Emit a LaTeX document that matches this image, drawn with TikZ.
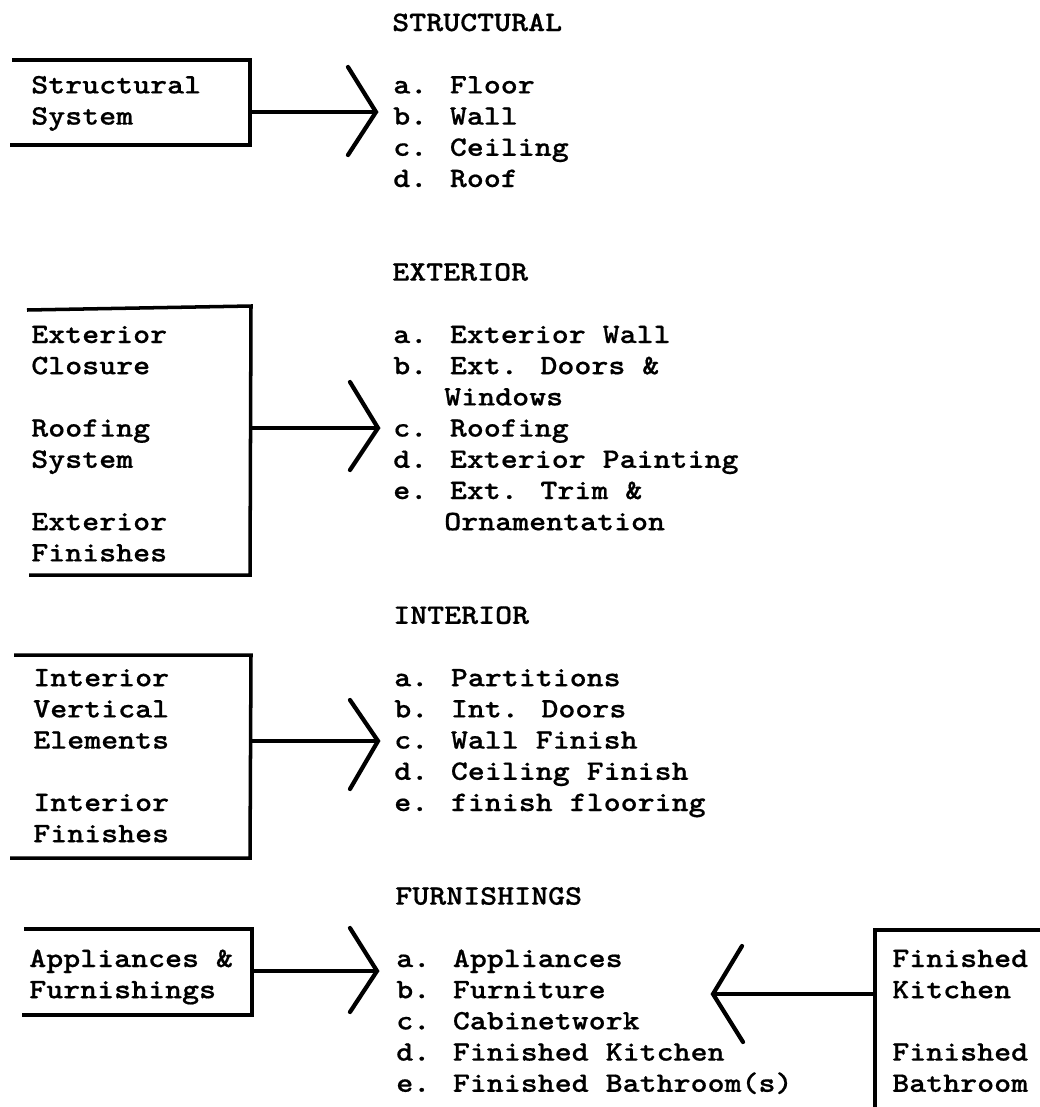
\documentclass[tikz,border=0pt]{standalone}
\usepackage{fontspec}
% typewriter face: dark Latin Modern Mono, widened a little and inked a bit heavier
\newfontfamily\typewriter{lmmonolt10-bold.otf}[FakeStretch=1.15, FakeBold=0.6]

\begin{document}
\begin{tikzpicture}[x=0.025cm, y=-0.025cm,
  txt/.style={anchor=base west, inner sep=0pt, font=\typewriter\fontsize{20}{24}\selectfont},
  box/.style={line width=2.5pt, line join=miter},
  link/.style={line width=2.4pt},
  chev/.style={line width=3pt, line cap=round, line join=miter}]

\useasboundingbox (0,0) rectangle (1040,1107);

% baseline of typed line n: 31 + 31.2 n
\def\ls{31.2}

% ---------------- STRUCTURAL ----------------
\node[txt] (hS) at (392,{31+\ls*0}) {STRUCTURAL};
\node[txt] (s1) at (393,{31+\ls*2}) {a. Floor};
\node[txt] (s2) at (393,{31+\ls*3}) {b. Wall};
\node[txt] (s3) at (393,{31+\ls*4}) {c. Ceiling};
\node[txt] (s4) at (393,{31+\ls*5}) {d. Roof};

\node[txt] (sb1) at (31,{31+\ls*2}) {Structural};
\node[txt] (sb2) at (31,{31+\ls*3}) {System};

\coordinate (SBtl) at (12,60);  \coordinate (SBtr) at (250,60);
\coordinate (SBbr) at (250,145); \coordinate (SBbl) at (10,145);
\draw[box] (SBtl) -- (SBtr) -- (SBbr) -- (SBbl);

\coordinate (SBout) at (250,112);
\coordinate (Stip) at (376,112);
\coordinate (Stop) at (348,67);
\coordinate (Sbot) at (348,155);
\draw[link] (SBout) -- (Stip);
\draw[chev] (Stop) -- (Stip) -- (Sbot);

% ---------------- EXTERIOR ----------------
\node[txt] (hE) at (392,{31+\ls*8}) {EXTERIOR};
\node[txt] (e1) at (393,{31+\ls*10}) {a. Exterior Wall};
\node[txt] (e2) at (393,{31+\ls*11}) {b. Ext. Doors \&};
\node[txt] (e2b) at (444,{31+\ls*12}) {Windows};
\node[txt] (e3) at (393,{31+\ls*13}) {c. Roofing};
\node[txt] (e4) at (393,{31+\ls*14}) {d. Exterior Painting};
\node[txt] (e5) at (393,{31+\ls*15}) {e. Ext. Trim \&};
\node[txt] (e5b) at (444,{31+\ls*16}) {Ornamentation};

\node[txt] (eb1) at (31,{31+\ls*10}) {Exterior};
\node[txt] (eb2) at (31,{31+\ls*11}) {Closure};
\node[txt] (eb3) at (31,{31+\ls*13}) {Roofing};
\node[txt] (eb4) at (31,{31+\ls*14}) {System};
\node[txt] (eb5) at (31,{31+\ls*16}) {Exterior};
\node[txt] (eb6) at (31,{31+\ls*17}) {Finishes};

\coordinate (EBtl) at (27,310);  \coordinate (EBtr) at (251,306);
\coordinate (EBbr) at (250,575); \coordinate (EBbl) at (29,575);
\draw[box] (EBtl) -- (EBtr) -- (EBbr) -- (EBbl);

\coordinate (EBout) at (250,428);
\coordinate (Etip) at (378,428);
\coordinate (Etop) at (350,382);
\coordinate (Ebot) at (350,470);
\draw[link] (EBout) -- (Etip);
\draw[chev] (Etop) -- (Etip) -- (Ebot);

% ---------------- INTERIOR ----------------
\node[txt] (hI) at (393,{31+\ls*19}) {INTERIOR};
\node[txt] (i1) at (394,{31+\ls*21}) {a. Partitions};
\node[txt] (i2) at (394,{31+\ls*22}) {b. Int. Doors};
\node[txt] (i3) at (394,{31+\ls*23}) {c. Wall Finish};
\node[txt] (i4) at (394,{31+\ls*24}) {d. Ceiling Finish};
\node[txt] (i5) at (394,{31+\ls*25}) {e. finish flooring};

\node[txt] (ib1) at (33,{31+\ls*21}) {Interior};
\node[txt] (ib2) at (33,{31+\ls*22}) {Vertical};
\node[txt] (ib3) at (33,{31+\ls*23}) {Elements};
\node[txt] (ib4) at (33,{31+\ls*25}) {Interior};
\node[txt] (ib5) at (33,{31+\ls*26}) {Finishes};

\coordinate (IBtl) at (14,655);  \coordinate (IBtr) at (251,655);
\coordinate (IBbr) at (250,858); \coordinate (IBbl) at (10,858);
\draw[box] (IBtl) -- (IBtr) -- (IBbr) -- (IBbl);

\coordinate (IBout) at (250,741);
\coordinate (Itip) at (378,741);
\coordinate (Itop) at (350,700);
\coordinate (Ibot) at (350,789);
\draw[link] (IBout) -- (Itip);
\draw[chev] (Itop) -- (Itip) -- (Ibot);

% ---------------- FURNISHINGS ----------------
\node[txt] (hF) at (395,{31+\ls*28}) {FURNISHINGS};
\node[txt] (f1) at (396,{31+\ls*30}) {a. Appliances};
\node[txt] (f2) at (396,{31+\ls*31}) {b. Furniture};
\node[txt] (f3) at (396,{31+\ls*32}) {c. Cabinetwork};
\node[txt] (f4) at (396,{31+\ls*33}) {d. Finished Kitchen};
\node[txt] (f5) at (396,{31+\ls*34}) {e. Finished Bathroom(s)};

\node[txt] (fb1) at (29,{31+\ls*30}) {Appliances \&};
\node[txt] (fb2) at (29,{31+\ls*31}) {Furnishings};

\coordinate (FBtl) at (24,929);  \coordinate (FBtr) at (252,929);
\coordinate (FBbr) at (252,1015); \coordinate (FBbl) at (22,1015);
\draw[box] (FBtl) -- (FBtr) -- (FBbr) -- (FBbl);

\coordinate (FBout) at (252,971);
\coordinate (Ftip) at (377,971);
\coordinate (Ftop) at (350,928);
\coordinate (Fbot) at (350,1012);
\draw[link] (FBout) -- (Ftip);
\draw[chev] (Ftop) -- (Ftip) -- (Fbot);

% right-hand box feeding the list from the other side
\node[txt] (kb1) at (892,{31+\ls*30}) {Finished};
\node[txt] (kb2) at (892,{31+\ls*31}) {Kitchen};
\node[txt] (kb3) at (892,{31+\ls*33}) {Finished};
\node[txt] (kb4) at (892,{31+\ls*34}) {Bathroom};

\coordinate (KBtr) at (1045,930); \coordinate (KBtl) at (875,930);
\coordinate (KBbl) at (875,1112);
\draw[box] (KBtr) -- (KBtl) -- (KBbl);

\coordinate (KBout) at (875,994);
\coordinate (Ktip) at (713,994);
\coordinate (Ktop) at (742,946);
\coordinate (Kbot) at (743,1042);
\draw[link] (KBout) -- (Ktip);
\draw[chev] (Ktop) -- (Ktip) -- (Kbot);

\end{tikzpicture}
\end{document}
